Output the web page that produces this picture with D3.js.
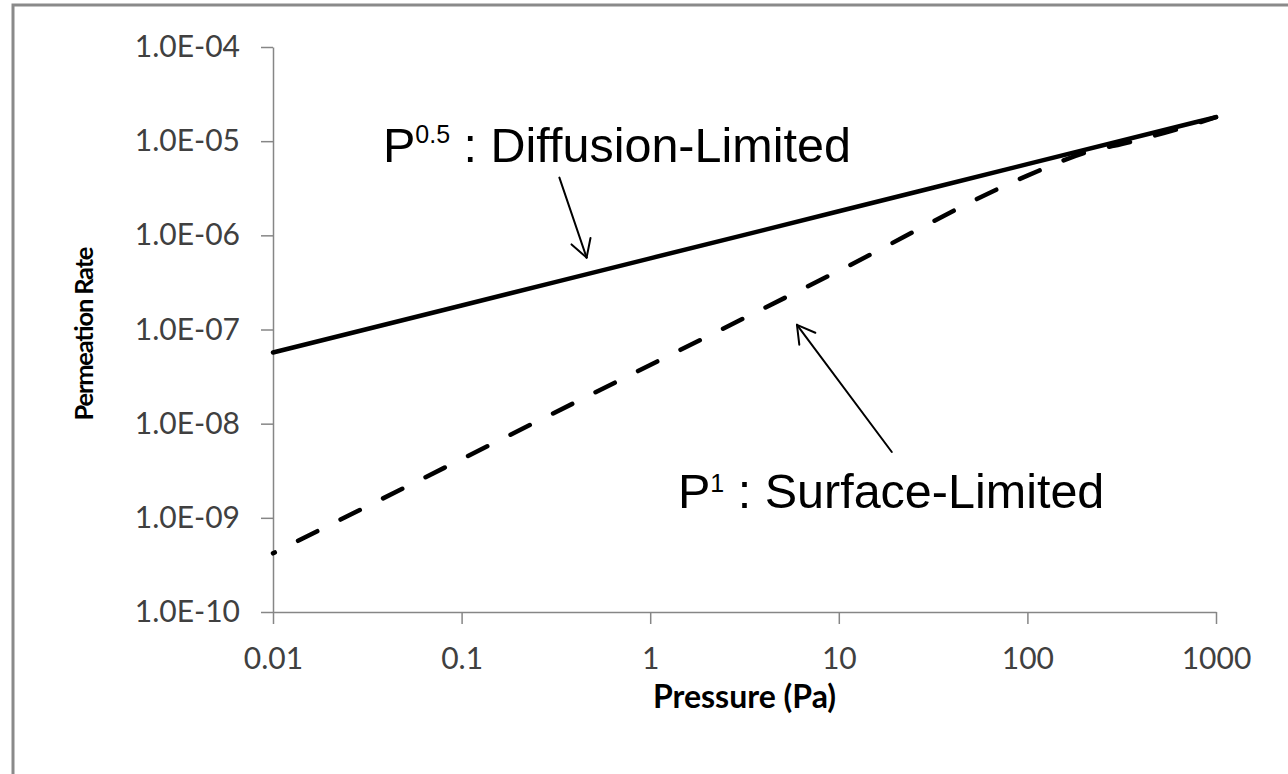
<!DOCTYPE html>
<html>
<head>
<meta charset="utf-8">
<script src="https://cdn.jsdelivr.net/npm/d3@7"></script>
<style>
  body { margin: 0; background: #fff; overflow: hidden; }
  svg { display: block; }
  .tick text { font-family: Lato, "Open Sans", sans-serif; font-size: 30px; fill: #404040; }
  .axis path, .axis line { stroke: #868686; stroke-width: 1.5; }
  .axis-title { font-family: Lato, "Open Sans", sans-serif; font-weight: bold; fill: #000; }
  .note { font-family: "Liberation Sans", Arial, sans-serif; font-size: 48.5px; fill: #000; }
  .note-sup { font-size: 25px; }
  .arrow { stroke: #000; stroke-width: 2; fill: none; stroke-linecap: round; }
</style>
</head>
<body>
<div id="chart"></div>
<script>
// Permeation rate vs pressure, log-log, two regimes.
const width = 1288;
const height = 774;
const margin = { top: 47, right: 72, bottom: 162, left: 273 };
const innerWidth = width - margin.left - margin.right;
const innerHeight = height - margin.top - margin.bottom;

// tick values
const pressureTicks = [0.01, 0.1, 1, 10, 100, 1000];
const rateTicks = [1e-10, 1e-9, 1e-8, 1e-7, 1e-6, 1e-5, 1e-4];

// P^0.5 line (solid)
const diffusionPressure = [0.01, 0.1, 1, 10, 100, 1000];
const diffusionRate = [5.7e-8, 1.8e-7, 5.7e-7, 1.8e-6, 5.7e-6, 1.8e-5];

// P^1 line (dashed), bends into the solid line near the top end
const surfacePressure = [0.01, 0.1, 1, 10, 100, 200, 350, 600, 1000];
const surfaceRate = [4.2e-10, 4.2e-9, 4.2e-8, 4.2e-7, 4.3e-6, 7.5e-6, 9.8e-6, 1.31e-5, 1.8e-5];

const svg = d3.select("#chart")
  .append("svg")
  .attr("width", width)
  .attr("height", height);

// outer frame (only left and top edges visible)
svg.append("path")
  .attr("d", `M13,${height} L13,5 L${width},5`)
  .attr("fill", "none")
  .attr("stroke", "#8a8a8a")
  .attr("stroke-width", 3);

const chart = svg.append("g")
  .attr("transform", `translate(${margin.left}, ${margin.top})`);

const xScale = d3.scaleLog()
  .domain([0.01, 1000])
  .range([0, innerWidth]);

const yScale = d3.scaleLog()
  .domain([1e-10, 1e-4])
  .range([innerHeight, 0]);

const xAxis = d3.axisBottom(xScale)
  .tickValues(pressureTicks)
  .tickFormat(d => String(d))
  .tickSize(12)
  .tickSizeOuter(0)
  .tickPadding(24);

const yAxis = d3.axisLeft(yScale)
  .tickValues(rateTicks)
  .tickFormat(d => "1.0E-" + String(-Math.round(Math.log10(d))).padStart(2, "0"))
  .tickSize(12)
  .tickSizeOuter(0)
  .tickPadding(21);

chart.append("g")
  .attr("class", "axis")
  .attr("transform", `translate(0, ${innerHeight})`)
  .call(xAxis)
  .attr("font-size", null)
  .attr("font-family", null);

chart.append("g")
  .attr("class", "axis")
  .call(yAxis)
  .attr("font-size", null)
  .attr("font-family", null);

chart.append("text")
  .attr("class", "axis-title")
  .attr("x", innerWidth / 2)
  .attr("y", innerHeight + 96)
  .attr("text-anchor", "middle")
  .style("font-size", "32px")
  .text("Pressure (Pa)");

chart.append("text")
  .attr("class", "axis-title")
  .attr("transform", `translate(${93 - margin.left}, ${innerHeight / 2 + 4}) rotate(-90)`)
  .attr("text-anchor", "middle")
  .attr("textLength", 174)
  .attr("lengthAdjust", "spacing")
  .style("font-size", "25.5px")
  .text("Permeation Rate");

const line = d3.line()
  .x(d => xScale(d[0]))
  .y(d => yScale(d[1]))
  .curve(d3.curveMonotoneX);

chart.append("path")
  .datum(d3.zip(diffusionPressure, diffusionRate))
  .attr("fill", "none")
  .attr("stroke", "#000")
  .attr("stroke-width", 4.5)
  .attr("stroke-linecap", "round")
  .attr("d", line);

chart.append("path")
  .datum(d3.zip(surfacePressure, surfaceRate))
  .attr("fill", "none")
  .attr("stroke", "#000")
  .attr("stroke-width", 4.5)
  .attr("stroke-linecap", "round")
  .attr("stroke-dasharray", "21.5 26")
  .attr("stroke-dashoffset", 19.5)
  .attr("d", line);

// annotation arrows, tail and tip given in data space
function arrow(from, to) {
  const x1 = xScale(from[0]), y1 = yScale(from[1]);
  const x2 = xScale(to[0]), y2 = yScale(to[1]);
  const ang = Math.atan2(y2 - y1, x2 - x1);
  const len = 20, spread = Math.PI / 6;
  chart.append("line").attr("class", "arrow")
    .attr("x1", x1).attr("y1", y1).attr("x2", x2).attr("y2", y2);
  [-spread, spread].forEach(s => {
    chart.append("line").attr("class", "arrow")
      .attr("x1", x2).attr("y1", y2)
      .attr("x2", x2 - len * Math.cos(ang + s))
      .attr("y2", y2 - len * Math.sin(ang + s));
  });
}

arrow([0.33, 4.1e-6], [0.46, 5.8e-7]);
arrow([19.1, 5.0e-9], [6.0, 1.12e-7]);

const diffLabel = svg.append("text")
  .attr("class", "note")
  .attr("x", 383)
  .attr("y", 162);
diffLabel.append("tspan").text("P");
diffLabel.append("tspan").attr("class", "note-sup").attr("dy", -19).text("0.5");
diffLabel.append("tspan").attr("dy", 19).text(" : Diffusion-Limited");

const surfLabel = svg.append("text")
  .attr("class", "note")
  .attr("x", 678)
  .attr("y", 508);
surfLabel.append("tspan").text("P");
surfLabel.append("tspan").attr("class", "note-sup").attr("dy", -16).text("1");
surfLabel.append("tspan").attr("dy", 16).text(" : Surface-Limited");
</script>
</body>
</html>
